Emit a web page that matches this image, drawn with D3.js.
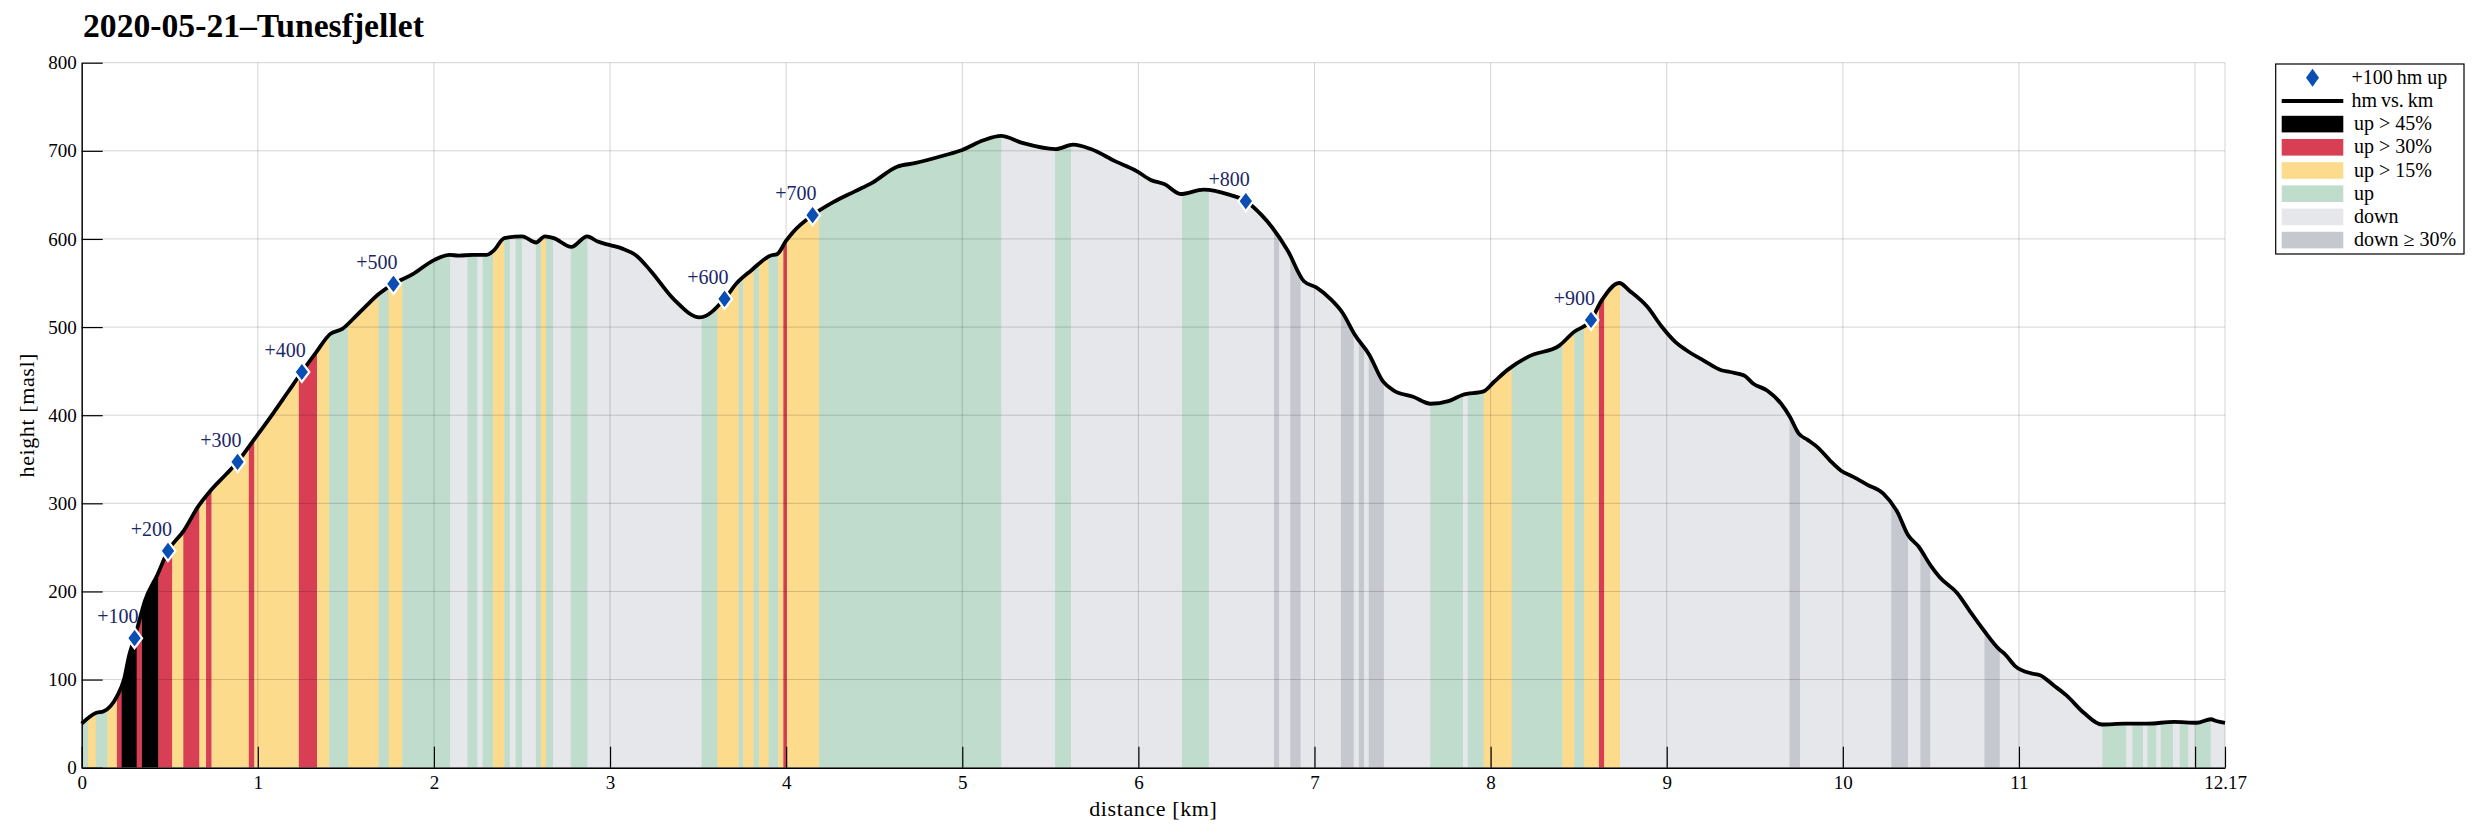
<!DOCTYPE html>
<html><head><meta charset="utf-8">
<script src="https://cdn.jsdelivr.net/npm/d3@7"></script>
<style>
body{margin:0;background:#fff}
svg{display:block}
text{font-family:"Liberation Serif","Times New Roman",serif}
</style>
</head><body>
<svg id="c" width="2481" height="838"></svg>
<script>
// ---------------- data ----------------
const titleText = "2020-05-21\u2013Tunesfjellet";
const profileKm = [0,0.08,0.125,0.2,0.24,0.27,0.30,0.36,0.43,0.49,0.58,0.66,0.73,0.82,0.885,0.97,1.09,1.17,1.25,1.33,1.41,1.48,1.55,1.61,1.69,1.77,1.88,2.0,2.09,2.14,2.22,2.30,2.34,2.40,2.50,2.58,2.63,2.68,2.78,2.87,2.93,3.0,3.07,3.15,3.23,3.36,3.51,3.65,3.72,3.80,3.91,3.95,4.0,4.04,4.15,4.27,4.39,4.49,4.63,4.73,4.90,5.0,5.12,5.22,5.34,5.53,5.63,5.73,5.87,5.99,6.07,6.15,6.24,6.37,6.52,6.61,6.70,6.76,6.85,6.94,7.01,7.09,7.16,7.23,7.31,7.39,7.45,7.56,7.66,7.76,7.84,7.96,8.02,8.10,8.22,8.39,8.47,8.57,8.63,8.73,8.79,8.89,8.97,9.05,9.11,9.21,9.31,9.36,9.44,9.49,9.57,9.65,9.70,9.75,9.80,9.86,9.93,9.99,10.06,10.14,10.23,10.31,10.37,10.43,10.50,10.55,10.65,10.72,10.80,10.89,10.92,10.98,11.07,11.12,11.20,11.27,11.37,11.47,11.60,11.73,11.88,12.01,12.09,12.12,12.17];
const profileElev = [50,62,64,81,100,128,147,190,219,246,269,296,314,333,347,370,403,426,449,471,492,498,511,523,538,549,560,576,582,581,582,582,587,601,603,596,603,601,591,603,597,593,589,581,564,532,511,532,550,564,581,583,598,608,627,642,654,664,682,686,695,701,712,717,709,702,707,702,688,677,667,662,651,656,650,643,627,613,586,552,545,532,516,491,469,438,428,421,413,416,423,427,438,452,467,479,494,508,530,550,541,523,501,483,474,462,451,449,445,436,428,413,398,379,372,363,348,337,330,321,311,290,264,251,229,216,198,178,156,134,129,115,107,105,93,82,62,49,50,50,52,51,55,53,51];

// gradient bands: edges (km) and category of each band
const bandEdges = [0,0.035,0.08,0.146,0.20,0.227,0.312,0.342,0.435,0.514,0.577,0.668,0.706,0.737,0.949,0.98,1.233,1.336,1.405,1.512,1.686,1.743,1.82,2.093,2.19,2.247,2.277,2.336,2.399,2.431,2.464,2.5,2.579,2.609,2.636,2.676,2.777,2.872,3.52,3.61,3.73,3.756,3.815,3.846,3.90,3.955,3.984,4.004,4.187,5.222,5.527,5.618,6.248,6.40,6.77,6.80,6.862,6.921,7.15,7.223,7.252,7.282,7.308,7.394,7.657,7.844,7.87,7.961,8.12,8.408,8.475,8.53,8.615,8.645,8.736,9.697,9.757,10.275,10.37,10.44,10.497,10.804,10.891,11.473,11.61,11.644,11.704,11.729,11.78,11.805,11.875,11.913,11.962,12.0,12.089,12.17];
const bandCats = ["up","up15","up","up15","up30","up45","up30","up45","up30","up15","up30","up15","up30","up15","up30","up15","up30","up15","up","up15","up","up15","up","down","up","down","up","up15","up","down","up","down","up","up15","up","down","up","down","up","up15","up","up15","up","up15","up","up15","up30","up15","up","down","up","down","up","down","down30","down","down30","down","down30","down","down30","down","down30","down","up","down","up","up15","up","up15","up","up15","up30","up15","down","down30","down","down30","down","down30","down","down30","down","up","down","up","down","up","down","up","down","up","down","up","down"];

const markerKm = [0.30,0.49,0.885,1.25,1.77,3.65,4.15,6.61,8.57];
const markerElev = [147,246,347,449,549,532,627,643,508];
const markerLabels = ["+100","+200","+300","+400","+500","+600","+700","+800","+900"];

const xTicks = [0,1,2,3,4,5,6,7,8,9,10,11,12,12.17];
const xTickLabels = ["0","1","2","3","4","5","6","7","8","9","10","11","","12.17"];
const yTicks = [0,100,200,300,400,500,600,700,800];

const catOrder = ["up45","up30","up15","up","down","down30"];
const catLabels = ["up > 45%","up > 30%","up > 15%","up","down","down \u2265 30%"];
const catColors = {up45:"#000000",up30:"#d83f54",up15:"#fddb8c",up:"#bfdccc",down:"#e6e7eb",down30:"#c6c8d0"};

// ---------------- layout ----------------
const L = 81.7, R = 2225, T = 62.7, B = 767.7;
const svg = d3.select("#c");
const x = d3.scaleLinear().domain([0,12.17]).range([L,R]);
const y = d3.scaleLinear().domain([0,800]).range([B,T]);

const pts = profileKm.map((k,i)=>[k,profileElev[i]]);
const area = d3.area().curve(d3.curveMonotoneX).x(d=>x(d[0])).y0(y(0)).y1(d=>y(d[1]));
const line = d3.line().curve(d3.curveMonotoneX).x(d=>x(d[0])).y(d=>y(d[1]));

svg.append("defs").append("clipPath").attr("id","under")
  .append("path").attr("d", area(pts));

// bands
const bands = bandCats.map((c,i)=>({a:bandEdges[i], b:bandEdges[i+1], c}));
svg.append("g").attr("clip-path","url(#under)")
  .selectAll("rect").data(bands).join("rect")
  .attr("x", d=>x(d.a)).attr("width", d=>Math.max(0, x(d.b)-x(d.a))+0.4)
  .attr("y", T).attr("height", B-T)
  .attr("fill", d=>catColors[d.c]);

// grid
const grid = svg.append("g").attr("stroke","#000").attr("stroke-opacity",0.17).attr("stroke-width",1);
grid.selectAll("line.gx").data(xTicks).join("line").attr("class","gx")
  .attr("x1",d=>x(d)).attr("x2",d=>x(d)).attr("y1",T).attr("y2",B);
grid.selectAll("line.gy").data(yTicks).join("line").attr("class","gy")
  .attr("y1",d=>y(d)).attr("y2",d=>y(d)).attr("x1",L).attr("x2",R);

// profile line
svg.append("path").attr("d", line(pts)).attr("fill","none")
  .attr("stroke","#000").attr("stroke-width",3.8).attr("stroke-linejoin","round");

// axes
const xAxis = d3.axisBottom(x).tickValues(xTicks).tickFormat((d,i)=>xTickLabels[i])
  .tickSizeInner(-21).tickSizeOuter(0).tickPadding(8);
const gx = svg.append("g").attr("transform",`translate(0,${B})`).call(xAxis);
const yAxis = d3.axisLeft(y).tickValues(yTicks).tickFormat(d3.format("d"))
  .tickSizeInner(-21).tickSizeOuter(0).tickPadding(5);
const gy = svg.append("g").attr("transform",`translate(${L},0)`).call(yAxis);
[gx,gy].forEach(g=>{
  g.attr("font-family",null).attr("font-size",null);
  g.select(".domain").attr("stroke","#000").attr("stroke-width",1.4);
  g.selectAll(".tick line").attr("stroke","#000").attr("stroke-width",1.2);
  g.selectAll(".tick text").attr("font-size",19).attr("fill","#000")
    .style("font-family",'"Liberation Serif",serif');
});

// markers
const mk = svg.append("g");
const diamond = (cx,cy,w,h)=>`M${cx},${cy-h/2}L${cx+w/2},${cy}L${cx},${cy+h/2}L${cx-w/2},${cy}Z`;
mk.selectAll("path").data(markerKm).join("path")
  .attr("d",(d,i)=>diamond(x(d), y(markerElev[i]), 15, 20))
  .attr("fill","#0a4db3").attr("stroke","#fff").attr("stroke-width",2.2);
mk.selectAll("text").data(markerLabels).join("text")
  .attr("x",(d,i)=>x(markerKm[i])+4).attr("y",(d,i)=>y(markerElev[i])-15)
  .attr("text-anchor","end").attr("font-size",20).attr("fill","#1a2766")
  .text(d=>d);

// title
const tt = svg.append("text").attr("x",83).attr("y",37).attr("font-weight","bold")
  .attr("font-size",28).attr("fill","#000").text(titleText);
const tw = tt.node().getComputedTextLength();
tt.attr("font-size", 28*341/tw);

// axis labels
svg.append("text").attr("x",(L+R)/2).attr("y",816).attr("text-anchor","middle")
  .attr("font-size",22).attr("letter-spacing",0.6).text("distance [km]");
svg.append("text").attr("transform",`translate(34,${(T+B)/2}) rotate(-90)`)
  .attr("text-anchor","middle").attr("font-size",22).attr("letter-spacing",0.6).text("height [masl]");

// legend
const lg = svg.append("g");
lg.append("rect").attr("x",2275.7).attr("y",64).attr("width",188.3).attr("height",190)
  .attr("fill","#fff").attr("stroke","#000").attr("stroke-width",1.2);
const rowY = i => 77.7 + i*23.2;
const sx0 = 2281.7, sx1 = 2343.3;
lg.append("path").attr("d", diamond((sx0+sx1)/2, rowY(0), 13, 18)).attr("fill","#0a4db3");
lg.append("text").attr("x",2351.5).attr("y",rowY(0)+6).attr("font-size",20).text("+100\u2009hm up");
lg.append("line").attr("x1",sx0).attr("x2",sx1).attr("y1",rowY(1)).attr("y2",rowY(1))
  .attr("stroke","#000").attr("stroke-width",4);
lg.append("text").attr("x",2351.5).attr("y",rowY(1)+6).attr("font-size",20).text("hm\u2009vs.\u2009km");
lg.selectAll("rect.sw").data(catOrder).join("rect").attr("class","sw")
  .attr("x",sx0).attr("width",sx1-sx0).attr("y",(d,i)=>rowY(i+2)-8.3).attr("height",16.6)
  .attr("fill",d=>catColors[d]);
lg.selectAll("text.lt").data(catLabels).join("text").attr("class","lt")
  .attr("x",2354).attr("y",(d,i)=>rowY(i+2)+6).attr("font-size",20).text(d=>d);
</script>
</body></html>
